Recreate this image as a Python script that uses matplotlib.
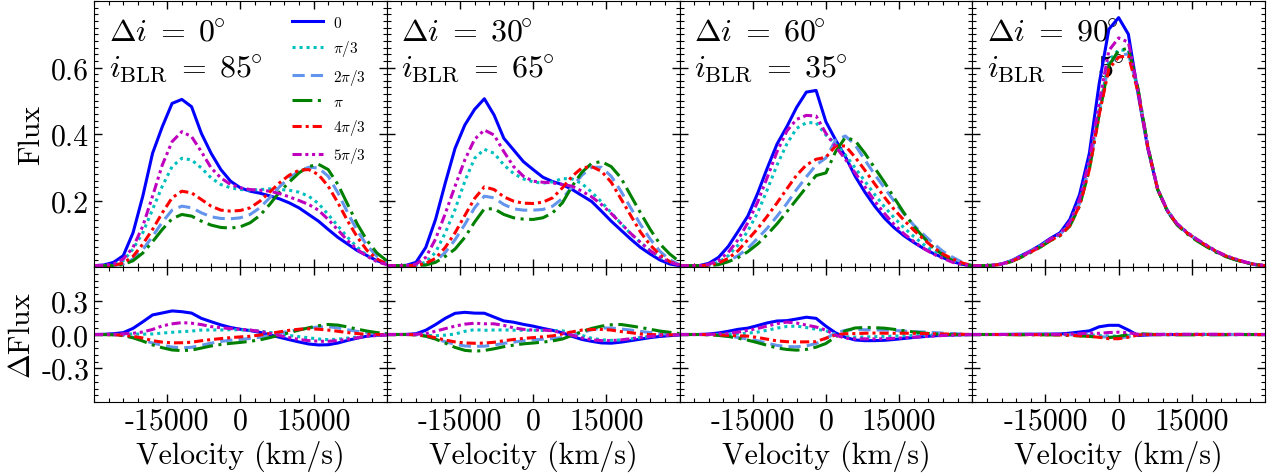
#!/usr/bin/python3

import numpy as np
import matplotlib
matplotlib.use("Agg")
import matplotlib.pyplot as plt
from matplotlib.ticker import FixedLocator, MultipleLocator

plt.rcParams["font.family"] = "serif"
plt.rcParams["font.serif"] = ["cmr10"]
plt.rcParams["mathtext.fontset"] = "cm"
plt.rcParams["axes.unicode_minus"] = False

# velocity grid (km/s) shared by every profile
velocity = np.arange(-30000, 30001, 2000)

# line profiles, one list per phase k*pi/3, for each inclination offset
di00_0 = [0.004, 0.006, 0.014, 0.034, 0.103, 0.213, 0.342, 0.422, 0.492, 0.504, 0.482, 0.402, 0.342, 0.293, 0.258, 0.238,
          0.228, 0.222, 0.214, 0.205, 0.193, 0.178, 0.158, 0.138, 0.113, 0.089, 0.069, 0.049, 0.034, 0.019, 0.009]
di00_1 = [0.004, 0.004, 0.006, 0.019, 0.054, 0.103, 0.173, 0.243, 0.302, 0.327, 0.322, 0.298, 0.268, 0.248, 0.238, 0.233,
          0.231, 0.233, 0.235, 0.233, 0.231, 0.225, 0.213, 0.191, 0.158, 0.123, 0.089, 0.059, 0.034, 0.018, 0.008]
di00_2 = [0.004, 0.004, 0.004, 0.009, 0.024, 0.052, 0.092, 0.135, 0.171, 0.183, 0.178, 0.163, 0.151, 0.146, 0.145, 0.148,
          0.158, 0.178, 0.208, 0.241, 0.268, 0.288, 0.300, 0.298, 0.273, 0.223, 0.163, 0.108, 0.064, 0.032, 0.014]
di00_3 = [0.004, 0.004, 0.004, 0.007, 0.019, 0.042, 0.076, 0.113, 0.145, 0.158, 0.153, 0.138, 0.126, 0.119, 0.117, 0.121,
          0.133, 0.155, 0.188, 0.225, 0.255, 0.283, 0.302, 0.309, 0.293, 0.248, 0.188, 0.128, 0.079, 0.042, 0.019]
di00_4 = [0.004, 0.004, 0.005, 0.012, 0.032, 0.069, 0.113, 0.163, 0.208, 0.228, 0.223, 0.203, 0.183, 0.171, 0.168, 0.170,
          0.178, 0.198, 0.225, 0.253, 0.276, 0.291, 0.293, 0.278, 0.243, 0.193, 0.138, 0.089, 0.049, 0.024, 0.009]
di00_5 = [0.004, 0.005, 0.009, 0.024, 0.059, 0.123, 0.213, 0.307, 0.377, 0.407, 0.392, 0.347, 0.298, 0.268, 0.248, 0.238,
          0.233, 0.231, 0.228, 0.221, 0.211, 0.200, 0.188, 0.171, 0.143, 0.111, 0.079, 0.052, 0.032, 0.016, 0.007]

di30_0 = [0.004, 0.004, 0.005, 0.014, 0.059, 0.143, 0.253, 0.357, 0.427, 0.474, 0.506, 0.457, 0.387, 0.352, 0.317, 0.293,
          0.270, 0.257, 0.248, 0.233, 0.215, 0.197, 0.168, 0.138, 0.111, 0.084, 0.059, 0.039, 0.021, 0.009, 0.004]
di30_1 = [0.004, 0.004, 0.004, 0.007, 0.014, 0.044, 0.103, 0.173, 0.258, 0.327, 0.354, 0.342, 0.307, 0.281, 0.265, 0.256,
          0.252, 0.256, 0.266, 0.265, 0.251, 0.225, 0.196, 0.163, 0.131, 0.100, 0.074, 0.049, 0.029, 0.016, 0.007]
di30_2 = [0.004, 0.004, 0.004, 0.004, 0.007, 0.018, 0.044, 0.082, 0.128, 0.178, 0.213, 0.208, 0.188, 0.175, 0.171, 0.171,
          0.173, 0.183, 0.206, 0.241, 0.276, 0.300, 0.300, 0.273, 0.228, 0.178, 0.128, 0.084, 0.047, 0.022, 0.007]
di30_3 = [0.004, 0.004, 0.004, 0.004, 0.006, 0.014, 0.032, 0.054, 0.089, 0.135, 0.175, 0.175, 0.158, 0.148, 0.144, 0.143,
          0.148, 0.163, 0.193, 0.243, 0.285, 0.312, 0.317, 0.302, 0.268, 0.215, 0.163, 0.113, 0.069, 0.039, 0.016]
di30_4 = [0.004, 0.004, 0.004, 0.005, 0.011, 0.026, 0.059, 0.103, 0.155, 0.206, 0.241, 0.233, 0.211, 0.198, 0.192, 0.191,
          0.195, 0.208, 0.238, 0.273, 0.298, 0.302, 0.288, 0.255, 0.205, 0.155, 0.105, 0.066, 0.036, 0.016, 0.006]
di30_5 = [0.004, 0.004, 0.004, 0.009, 0.029, 0.084, 0.161, 0.243, 0.322, 0.384, 0.412, 0.397, 0.347, 0.302, 0.273, 0.258,
          0.255, 0.253, 0.248, 0.243, 0.228, 0.211, 0.188, 0.161, 0.131, 0.101, 0.074, 0.049, 0.029, 0.014, 0.006]

di60_0 = [0.004, 0.004, 0.004, 0.011, 0.029, 0.062, 0.107, 0.153, 0.221, 0.298, 0.370, 0.422, 0.480, 0.526, 0.531, 0.437,
          0.382, 0.332, 0.273, 0.225, 0.183, 0.147, 0.118, 0.094, 0.074, 0.056, 0.041, 0.028, 0.016, 0.008, 0.004]
di60_1 = [0.004, 0.004, 0.004, 0.007, 0.014, 0.034, 0.066, 0.108, 0.163, 0.233, 0.307, 0.370, 0.417, 0.434, 0.434, 0.397,
          0.370, 0.337, 0.298, 0.258, 0.218, 0.181, 0.148, 0.118, 0.092, 0.068, 0.049, 0.032, 0.020, 0.010, 0.004]
di60_2 = [0.004, 0.004, 0.004, 0.005, 0.009, 0.019, 0.034, 0.056, 0.086, 0.117, 0.153, 0.191, 0.233, 0.271, 0.307, 0.328,
          0.382, 0.394, 0.367, 0.322, 0.278, 0.238, 0.198, 0.160, 0.126, 0.098, 0.071, 0.047, 0.029, 0.014, 0.004]
di60_3 = [0.004, 0.004, 0.004, 0.004, 0.007, 0.016, 0.028, 0.046, 0.069, 0.098, 0.130, 0.166, 0.203, 0.240, 0.275, 0.283,
          0.347, 0.390, 0.380, 0.342, 0.298, 0.255, 0.208, 0.163, 0.123, 0.089, 0.059, 0.036, 0.019, 0.009, 0.004]
di60_4 = [0.004, 0.004, 0.004, 0.006, 0.012, 0.026, 0.049, 0.082, 0.115, 0.153, 0.193, 0.235, 0.276, 0.307, 0.324, 0.330,
          0.364, 0.364, 0.330, 0.291, 0.250, 0.210, 0.173, 0.141, 0.111, 0.084, 0.059, 0.039, 0.024, 0.012, 0.004]
di60_5 = [0.004, 0.004, 0.004, 0.008, 0.020, 0.044, 0.082, 0.133, 0.195, 0.270, 0.347, 0.409, 0.444, 0.456, 0.454, 0.402,
          0.362, 0.324, 0.283, 0.241, 0.198, 0.161, 0.128, 0.100, 0.077, 0.056, 0.039, 0.026, 0.014, 0.007, 0.004]

di90_0 = [0.003, 0.004, 0.005, 0.009, 0.019, 0.034, 0.049, 0.066, 0.086, 0.103, 0.143, 0.218, 0.342, 0.550, 0.715, 0.750,
          0.700, 0.520, 0.355, 0.233, 0.168, 0.128, 0.103, 0.082, 0.064, 0.046, 0.032, 0.022, 0.014, 0.007, 0.004]
di90_1 = [0.003, 0.004, 0.005, 0.009, 0.018, 0.032, 0.047, 0.064, 0.083, 0.099, 0.131, 0.195, 0.307, 0.472, 0.621, 0.653,
          0.651, 0.530, 0.360, 0.235, 0.170, 0.129, 0.103, 0.082, 0.064, 0.047, 0.033, 0.023, 0.014, 0.007, 0.004]
di90_2 = [0.003, 0.004, 0.005, 0.009, 0.018, 0.032, 0.047, 0.063, 0.082, 0.098, 0.129, 0.191, 0.302, 0.462, 0.611, 0.636,
          0.641, 0.530, 0.360, 0.235, 0.170, 0.130, 0.104, 0.083, 0.064, 0.047, 0.033, 0.023, 0.014, 0.007, 0.004]
di90_3 = [0.003, 0.004, 0.005, 0.008, 0.016, 0.029, 0.044, 0.060, 0.079, 0.094, 0.123, 0.183, 0.293, 0.457, 0.606, 0.651,
          0.658, 0.535, 0.362, 0.233, 0.167, 0.126, 0.100, 0.079, 0.061, 0.044, 0.031, 0.021, 0.013, 0.007, 0.004]
di90_4 = [0.003, 0.004, 0.005, 0.008, 0.017, 0.030, 0.045, 0.061, 0.080, 0.095, 0.125, 0.185, 0.293, 0.457, 0.596, 0.631,
          0.636, 0.525, 0.358, 0.233, 0.169, 0.128, 0.103, 0.082, 0.064, 0.047, 0.033, 0.023, 0.014, 0.007, 0.004]
di90_5 = [0.003, 0.004, 0.005, 0.009, 0.018, 0.032, 0.047, 0.064, 0.084, 0.100, 0.135, 0.203, 0.322, 0.492, 0.651, 0.689,
          0.676, 0.530, 0.360, 0.235, 0.170, 0.130, 0.105, 0.084, 0.066, 0.048, 0.034, 0.024, 0.015, 0.008, 0.004]

delta_i = [0, 30, 60, 90]
i_blr = [85, 65, 35, 5]
profiles = [
    [di00_0, di00_1, di00_2, di00_3, di00_4, di00_5],
    [di30_0, di30_1, di30_2, di30_3, di30_4, di30_5],
    [di60_0, di60_1, di60_2, di60_3, di60_4, di60_5],
    [di90_0, di90_1, di90_2, di90_3, di90_4, di90_5],
]

phase_labels = [r"$0$", r"$\pi/3$", r"$2\pi/3$", r"$\pi$", r"$4\pi/3$", r"$5\pi/3$"]
colors = ["b", "c", "cornflowerblue", "g", "r", "m"]
styles = ["-", (0, (1, 1.3)), (0, (4, 2)), (0, (6.5, 1.8, 1, 1.8)),
          (0, (3, 1.3, 1, 1.3)), (0, (3, 1.2, 1, 1.2, 1, 1.2))]

FS = 21.5


def style_axis(ax):
    ax.tick_params(which="both", direction="in", top=True, right=True,
                   labelsize=FS)
    ax.tick_params(which="major", length=6, width=1)
    ax.tick_params(which="minor", length=3, width=0.8)
    ax.set_xlim(-30000, 30000)
    ax.xaxis.set_major_locator(FixedLocator([-15000, 0, 15000]))
    ax.xaxis.set_minor_locator(MultipleLocator(3000))


def main():
    fig = plt.figure(figsize=(12.85, 4.77), dpi=100)
    gs = fig.add_gridspec(2, 4, left=94 / 1285, right=1265 / 1285,
                          top=1 - 2 / 477, bottom=1 - 403 / 477,
                          wspace=0, hspace=0, height_ratios=[266, 135])

    top0 = bot0 = None
    for col in range(4):
        ax = fig.add_subplot(gs[0, col], sharey=top0)
        axr = fig.add_subplot(gs[1, col], sharex=ax, sharey=bot0)
        if col == 0:
            top0, bot0 = ax, axr

        curves = np.array(profiles[col])
        mean = curves.mean(axis=0)
        for k in range(6):
            ax.plot(velocity, curves[k], color=colors[k], ls=styles[k],
                    lw=2.2, label=phase_labels[k])
            axr.plot(velocity, curves[k] - mean, color=colors[k],
                     ls=styles[k], lw=2.2)

        for a in (ax, axr):
            style_axis(a)

        ax.set_ylim(0, 0.8)
        ax.yaxis.set_major_locator(FixedLocator([0.2, 0.4, 0.6]))
        ax.yaxis.set_minor_locator(MultipleLocator(0.02))
        axr.set_ylim(-0.6, 0.6)
        axr.yaxis.set_major_locator(FixedLocator([-0.3, 0.0, 0.3]))
        axr.yaxis.set_minor_locator(MultipleLocator(0.06))

        ax.tick_params(labelbottom=False)
        if col > 0:
            ax.tick_params(labelleft=False)
            axr.tick_params(labelleft=False)

        ax.text(0.05, 0.851, r"$\Delta i\;=\;%d^{\!\!\circ}$" % delta_i[col],
                transform=ax.transAxes, fontsize=23, va="baseline", zorder=1)
        ax.text(0.05, 0.717, r"$i_{\rm BLR}\;=\;%d^{\!\!\circ}$" % i_blr[col],
                transform=ax.transAxes, fontsize=23, va="baseline", zorder=1)

        axr.set_xlabel("Velocity (km/s)", fontsize=FS)

    top0.set_ylabel("Flux", fontsize=FS)
    bot0.set_ylabel(r"$\Delta$Flux", fontsize=FS)
    top0.legend(loc="upper left", bbox_to_anchor=(0.63, 1.0), frameon=False,
                fontsize=11, handlelength=2.0, labelspacing=0.55,
                handletextpad=0.7)

    fig.savefig("out.png", dpi=100)


if __name__ == "__main__":
    main()
